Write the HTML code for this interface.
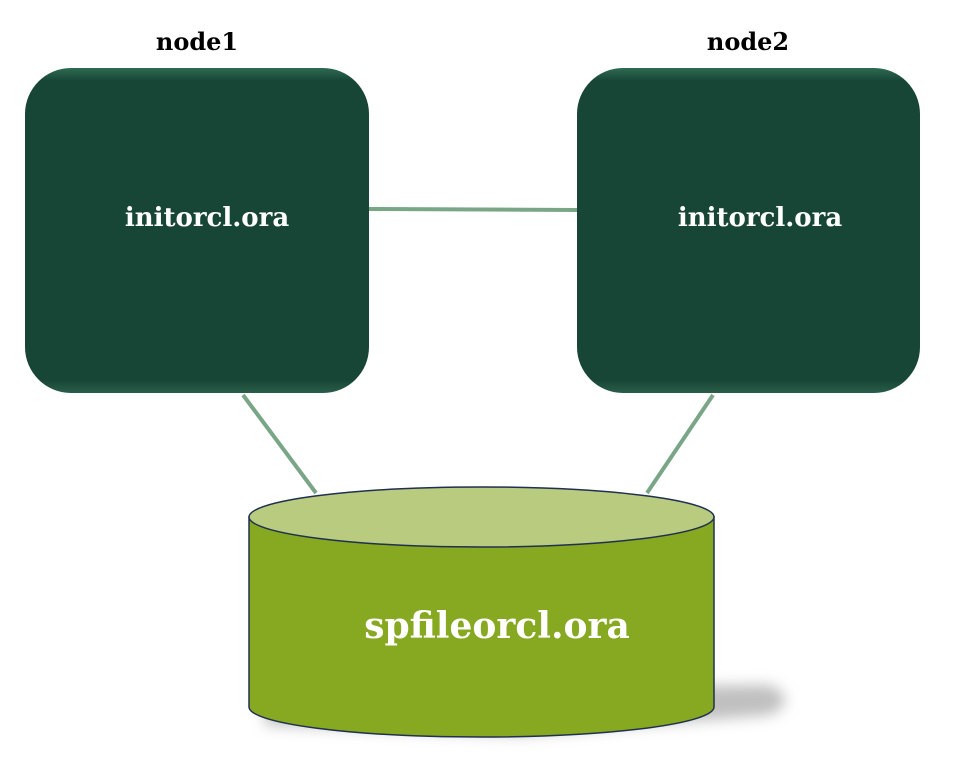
<!DOCTYPE html>
<html><head><meta charset="utf-8"><style>
html,body{margin:0;padding:0;background:#fff;}
svg{display:block;}
text{font-family:"DejaVu Serif","Liberation Serif",serif;font-weight:bold;}
</style></head><body>
<svg width="978" height="760" viewBox="0 0 978 760" xmlns="http://www.w3.org/2000/svg">
<defs>
<filter id="blur" x="-20%" y="-50%" width="140%" height="200%"><feGaussianBlur stdDeviation="7"/></filter>
<linearGradient id="bx" x1="0" y1="0" x2="0" y2="1">
<stop offset="0" stop-color="#2e6a52"/><stop offset="0.04" stop-color="#174536"/><stop offset="0.96" stop-color="#174536"/><stop offset="1" stop-color="#2a5e48"/>
</linearGradient>
</defs>
<line x1="369" y1="209" x2="577" y2="210" stroke="#7aa688" stroke-width="4"/>
<line x1="243" y1="395" x2="316" y2="493" stroke="#7aa688" stroke-width="4"/>
<line x1="713" y1="395" x2="647" y2="493" stroke="#7aa688" stroke-width="4"/>
<text x="197" y="50" font-size="24" text-anchor="middle" fill="#000">node1</text>
<text x="748" y="50" font-size="24" text-anchor="middle" fill="#000">node2</text>
<rect x="25" y="68" width="344" height="325" rx="46" fill="url(#bx)"/>
<rect x="577" y="68" width="343" height="325" rx="46" fill="url(#bx)"/>
<text x="207" y="226" font-size="26" text-anchor="middle" fill="#fff">initorcl.ora</text>
<text x="760" y="226" font-size="26" text-anchor="middle" fill="#fff">initorcl.ora</text>
<path d="M265 690 L770 685 Q800 700 770 715 L520 735 L265 725 Z" fill="#aaa" filter="url(#blur)" opacity="0.75"/>
<path d="M249 517 L249 707 A232.5 30 0 0 0 714 707 L714 517 Z" fill="#87a821" stroke="#1f3050" stroke-width="1.5"/>
<ellipse cx="481.5" cy="517" rx="232.5" ry="30" fill="#b8cb7e" stroke="#1f3050" stroke-width="1.5"/>
<text x="497" y="638" font-size="36" text-anchor="middle" fill="#fff">spfileorcl.ora</text>
</svg>
</body></html>
